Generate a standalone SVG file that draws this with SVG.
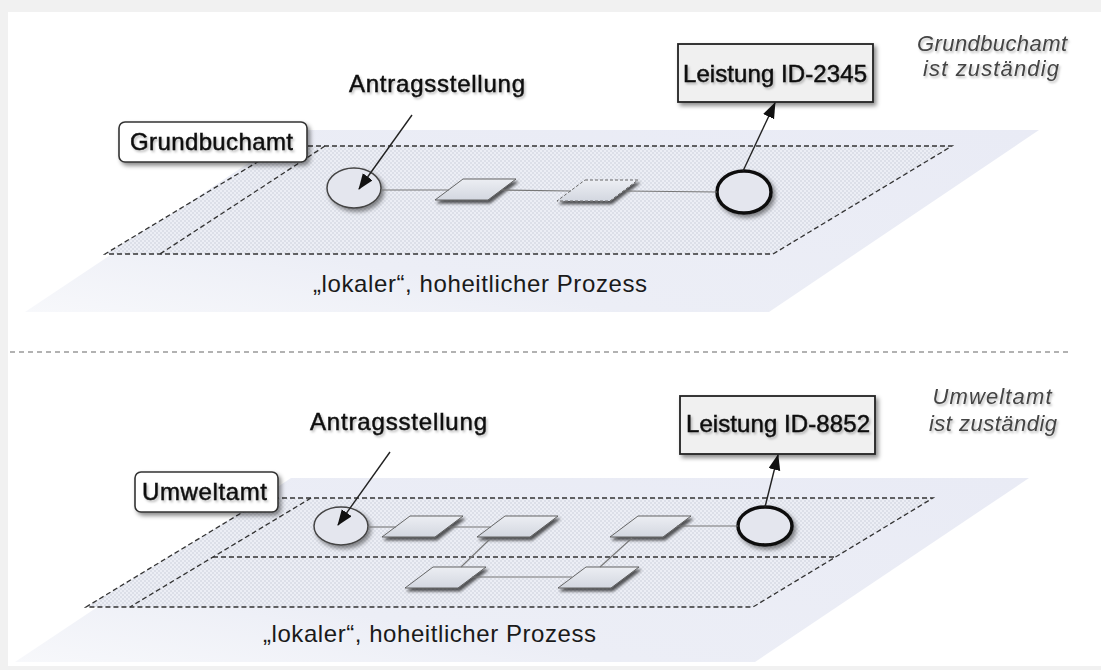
<svg xmlns="http://www.w3.org/2000/svg" width="1101" height="670" viewBox="0 0 1101 670">
<defs>
  <style>
    .t{font-family:"Liberation Sans",Arial,sans-serif;font-size:24px;fill:#111;stroke:#111;stroke-width:0.5;filter:url(#tsh)}
    .it{font-family:"Liberation Sans",Arial,sans-serif;font-size:22px;font-style:italic;fill:#444;filter:url(#tsh)}
    .sub{font-family:"Liberation Sans",Arial,sans-serif;font-size:24px;fill:#1a1a1a}
    .lane{fill:url(#dots);stroke:#333;stroke-width:1.3;stroke-dasharray:5 3}
    .dl{fill:none;stroke:#333;stroke-width:1.3;stroke-dasharray:5 3}
    .band{fill:url(#bandg)}
    .lbl{fill:#fff;stroke:#333;stroke-width:1.6;filter:url(#sh)}
    .box{fill:#f0f0f0;stroke:#222;stroke-width:1.8;filter:url(#sh)}
    .start{fill:#e4e6ee;stroke:#444;stroke-width:1.5;filter:url(#sh)}
    .end{fill:#e4e6ee;stroke:#111;stroke-width:3.5;filter:url(#sh)}
    .act{fill:url(#actg);stroke:#555;stroke-width:0.9;filter:url(#ash)}
    .actd{fill:url(#actg);stroke:#666;stroke-width:1;stroke-dasharray:3 2;filter:url(#ash)}
    .flow{stroke:#777;stroke-width:1.1;fill:none}
    .arr{stroke:#222;stroke-width:1.4;fill:none;marker-end:url(#ah)}
  </style>
  <pattern id="dots" width="4" height="4" patternUnits="userSpaceOnUse">
    <rect width="4" height="4" fill="#eceef5"/>
    <circle cx="1" cy="1" r="0.8" fill="#c9cdd9"/>
    <circle cx="3" cy="3" r="0.8" fill="#c9cdd9"/>
  </pattern>
  <linearGradient id="bandg" x1="1" y1="0" x2="0" y2="1">
    <stop offset="0" stop-color="#e9ebf5"/>
    <stop offset="0.7" stop-color="#eceef6"/>
    <stop offset="1" stop-color="#f7f8fb"/>
  </linearGradient>
  <linearGradient id="actg" x1="0" y1="0" x2="0" y2="1">
    <stop offset="0" stop-color="#eceef3"/>
    <stop offset="1" stop-color="#d3d7e0"/>
  </linearGradient>
  <filter id="sh" x="-20%" y="-20%" width="150%" height="160%">
    <feDropShadow dx="2.5" dy="3" stdDeviation="2" flood-color="#000" flood-opacity="0.45"/>
  </filter>
  <filter id="ash" x="-20%" y="-30%" width="150%" height="180%">
    <feDropShadow dx="2" dy="3" stdDeviation="1.6" flood-color="#000" flood-opacity="0.65"/>
  </filter>
  <filter id="tsh" x="-10%" y="-30%" width="130%" height="170%">
    <feDropShadow dx="1.5" dy="2" stdDeviation="1.2" flood-color="#000" flood-opacity="0.25"/>
  </filter>
  <filter id="blur" x="-5%" y="-200%" width="110%" height="500%">
    <feGaussianBlur stdDeviation="2"/>
  </filter>
  <marker id="ah" markerWidth="18" markerHeight="14" refX="15" refY="6" orient="auto" markerUnits="userSpaceOnUse">
    <path d="M0,0 L16,6 L0,12 Z" fill="#111"/>
  </marker>
</defs>

<rect width="1101" height="670" fill="#f1f1f1"/>
<rect x="8" y="12" width="1093" height="654" fill="#fff"/>

<!-- separator -->
<line x1="10" y1="352" x2="1068" y2="352" stroke="#666" stroke-width="1.2" stroke-dasharray="5 4"/>

<!-- ===== TOP PANEL ===== -->
<g id="top-band">
  <polygon class="band" points="298,130 1039,130 769,312 25,312"/>
  <line x1="110" y1="257" x2="773" y2="257" stroke="#333" stroke-width="3" opacity="0.5" filter="url(#blur)"/>
  <path class="lane" d="M284,146 L952,146 L773,254 L105,254 Z"/>
  <path class="dl" d="M325,146 L160,254"/>
  <text class="sub" x="313" y="292" textLength="334" lengthAdjust="spacing">„lokaler“, hoheitlicher Prozess</text>
</g>

<g id="top-label">
  <rect class="lbl" x="119" y="122" width="188" height="40" rx="6"/>
  <text class="t" x="130" y="150" textLength="163" lengthAdjust="spacing">Grundbuchamt</text>
</g>
<g id="top-antrag">
  <text class="t" x="349" y="92" textLength="176" lengthAdjust="spacing">Antragsstellung</text>
</g>
<g id="top-start">
  <ellipse class="start" cx="354" cy="188" rx="27" ry="20"/>
</g>
<g id="top-act1">
  <polygon class="act" points="463,179 516,179 488,200 435,200"/>
</g>
<g id="top-act2">
  <polygon class="actd" points="585,180 638,180 610,201 557,201"/>
</g>
<g id="top-end">
  <ellipse class="end" cx="744" cy="192" rx="27" ry="21"/>
</g>
<g id="top-leistung">
  <rect class="box" x="678" y="44" width="195" height="58"/>
  <text class="t" x="683" y="82" textLength="184" lengthAdjust="spacing">Leistung ID-2345</text>
</g>
<g id="top-note">
  <text class="it" x="992" y="51" text-anchor="middle" textLength="150" lengthAdjust="spacing">Grundbuchamt</text>
  <text class="it" x="991" y="76" text-anchor="middle" textLength="136" lengthAdjust="spacing">ist zuständig</text>
</g>

<!-- ===== BOTTOM PANEL ===== -->
<g id="bot-band">
  <polygon class="band" points="291,478 1029,478 755,662 15,662"/>
  <line x1="90" y1="610" x2="753" y2="610" stroke="#333" stroke-width="3" opacity="0.5" filter="url(#blur)"/>
  <path class="lane" d="M266,498 L933,498 L753,607 L86,607 Z"/>
  <path class="dl" d="M311,498 L130,607"/>
  <path class="dl" d="M213,557 L836,557"/>
  <text class="sub" x="263" y="642" textLength="333" lengthAdjust="spacing">„lokaler“, hoheitlicher Prozess</text>
</g>

<g id="bot-label">
  <rect class="lbl" x="135" y="472" width="143" height="40" rx="6"/>
  <text class="t" x="142" y="500" textLength="125" lengthAdjust="spacing">Umweltamt</text>
</g>
<g id="bot-antrag">
  <text class="t" x="310" y="430" textLength="177" lengthAdjust="spacing">Antragsstellung</text>
</g>
<g id="bot-start">
  <ellipse class="start" cx="341" cy="526" rx="27" ry="19"/>
</g>
<g id="bot-actA"><polygon class="act" points="410,516 463,516 435,537 382,537"/></g>
<g id="bot-actB"><polygon class="act" points="505,516 558,516 530,537 477,537"/></g>
<g id="bot-actC"><polygon class="act" points="638,516 691,516 663,537 610,537"/></g>
<g id="bot-actD"><polygon class="act" points="433,567 486,567 458,588 405,588"/></g>
<g id="bot-actE"><polygon class="act" points="586,567 639,567 611,588 558,588"/></g>
<g id="bot-end">
  <ellipse class="end" cx="765" cy="526" rx="27" ry="19"/>
</g>
<g id="bot-leistung">
  <rect class="box" x="680" y="396" width="195" height="58"/>
  <text class="t" x="686" y="432" textLength="184" lengthAdjust="spacing">Leistung ID-8852</text>
</g>
<g id="bot-note">
  <text class="it" x="992" y="404" text-anchor="middle" textLength="119" lengthAdjust="spacing">Umweltamt</text>
  <text class="it" x="993" y="431" text-anchor="middle" textLength="128" lengthAdjust="spacing">ist zuständig</text>
</g>

<g id="connectors">
  <line class="flow" x1="381" y1="190" x2="449" y2="190"/>
  <line class="flow" x1="502" y1="190" x2="571" y2="191"/>
  <line class="flow" x1="625" y1="191" x2="717" y2="192"/>
  <line class="arr" x1="412" y1="115" x2="359" y2="189"/>
  <line class="arr" x1="743" y1="171" x2="775" y2="103"/>
  <line class="flow" x1="368" y1="527" x2="396" y2="527"/>
  <line class="flow" x1="449" y1="527" x2="491" y2="527"/>
  <line class="flow" x1="490" y1="539" x2="461" y2="567"/>
  <line class="flow" x1="472" y1="577" x2="572" y2="577"/>
  <line class="flow" x1="600" y1="567" x2="632" y2="538"/>
  <line class="flow" x1="677" y1="526" x2="738" y2="526"/>
  <line class="arr" x1="390" y1="452" x2="338" y2="525"/>
  <line class="arr" x1="765" y1="507" x2="778" y2="455"/>
</g>
</svg>
